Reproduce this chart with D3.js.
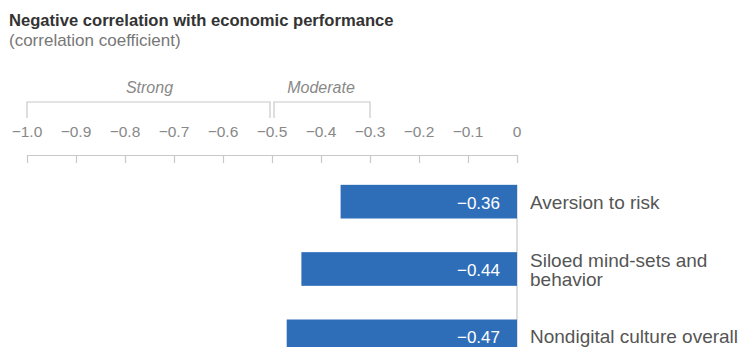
<!DOCTYPE html>
<html>
<head>
<meta charset="utf-8">
<script src="https://cdn.jsdelivr.net/npm/d3@7"></script>
<style>
  body { margin: 0; background: #fff; }
  svg { display: block; font-family: "Liberation Sans", Arial, sans-serif; }
</style>
</head>
<body>
<div id="chart"></div>
<script>
// values
const categories = [["Aversion to risk"], ["Siloed mind-sets and", "behavior"], ["Nondigital culture overall"]];
const values = [-0.36, -0.44, -0.47];
const tickValues = [-1.0, -0.9, -0.8, -0.7, -0.6, -0.5, -0.4, -0.3, -0.2, -0.1, 0];
const bands = [{ label: "Strong", from: -1.0, to: -0.5 }, { label: "Moderate", from: -0.5, to: -0.3 }];

const W = 747, H = 347;
const svg = d3.select("#chart").append("svg").attr("width", W).attr("height", H);

const x = d3.scaleLinear().domain([-1, 0]).range([27, 517]);
const y = d3.scaleBand().domain(d3.range(values.length)).range([168, 370]).paddingInner(0.5).paddingOuter(0.25);

// title
svg.append("text").attr("x", 9).attr("y", 26).attr("fill", "#333")
  .style("font-size", "16.6px").style("font-weight", "bold").text("Negative correlation with economic performance");
svg.append("text").attr("x", 9).attr("y", 46).attr("fill", "#777")
  .style("font-size", "17px").text("(correlation coefficient)");

// strength brackets
const grey = "#c8c8c8";
bands.forEach((b, i) => {
  const x0 = x(b.from) + (i ? 2 : 0), x1 = x(b.to) - (i ? 0 : 2);
  svg.append("path").attr("fill", "none").attr("stroke", grey).attr("stroke-width", 1.2)
    .attr("d", `M${x0},118V102H${x1}V118`);
  svg.append("text").attr("x", (x(b.from) + x(b.to)) / 2).attr("y", 93).attr("text-anchor", "middle")
    .attr("fill", "#888").style("font-size", "16px").style("font-style", "italic").text(b.label);
});

// axis
const ax = svg.append("g").attr("transform", "translate(0,155)")
  .call(d3.axisBottom(x).tickValues(tickValues).tickSize(8).tickSizeOuter(0).tickFormat(""));
ax.select(".domain").attr("stroke", grey).attr("stroke-width", 1.2);
ax.selectAll(".tick line").attr("stroke", grey).attr("stroke-width", 1.2);
svg.selectAll("text.tk").data(tickValues).join("text").attr("class", "tk")
  .attr("x", (d) => x(d)).attr("y", 137).attr("text-anchor", "middle")
  .attr("fill", "#888").style("font-size", "15.5px")
  .text((d) => d === 0 ? "0" : d3.format(".1f")(d).replace("-", "\u2212"));

// zero line
svg.append("line").attr("x1", x(0)).attr("x2", x(0)).attr("y1", y(0)).attr("y2", H)
  .attr("stroke", grey).attr("stroke-width", 1.2);

// bars
const barColor = "#2e6db8";
svg.selectAll("rect.bar").data(values).join("rect").attr("class", "bar")
  .attr("x", (d) => x(d)).attr("width", (d) => x(0) - x(d))
  .attr("y", (d, i) => y(i)).attr("height", y.bandwidth()).attr("fill", barColor);

svg.selectAll("text.val").data(values).join("text").attr("class", "val")
  .attr("x", x(0) - 17).attr("y", (d, i) => y(i) + y.bandwidth() / 2 + 7)
  .attr("text-anchor", "end").attr("fill", "#fff").style("font-size", "17px")
  .text((d) => d3.format(".2f")(d).replace("-", "\u2212"));

// category labels
categories.forEach((lines, i) => {
  const t = svg.append("text").attr("fill", "#555").style("font-size", "19px");
  const cy = y(i) + y.bandwidth() / 2 + 7 - (lines.length - 1) * 9.5;
  lines.forEach((l, j) => t.append("tspan").attr("x", x(0) + 13).attr("y", cy + j * 19).text(l));
});
</script>
</body>
</html>
